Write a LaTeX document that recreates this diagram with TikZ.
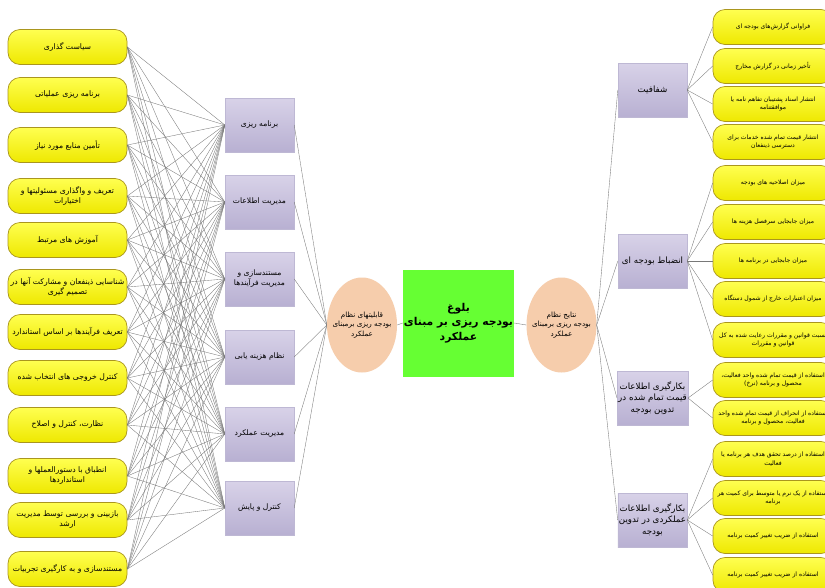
\documentclass[tikz,border=0pt]{standalone}
\usepackage{fontspec}
\usetikzlibrary{shapes.geometric}
\newfontfamily\arabicfont[Script=Arabic]{DejaVu Sans}
\TeXXeTstate=1
\newcommand\fa[1]{\beginR #1\endR}
\definecolor{lavtop}{RGB}{216,210,232}
\definecolor{lavbot}{RGB}{184,176,210}
\definecolor{lavline}{RGB}{190,184,212}
\definecolor{yeltop}{RGB}{255,255,80}
\definecolor{yelbot}{RGB}{238,232,0}
\definecolor{yelline}{RGB}{170,150,30}
\definecolor{peach}{RGB}{246,205,172}
\definecolor{limegreen}{RGB}{102,255,51}
\definecolor{linkgray}{RGB}{120,120,120}

\tikzset{
  crit/.style={draw=yelline, line width=0.7pt, rounded corners=12pt, top color=yeltop, bottom color=yelbot,
    minimum width=119, minimum height=35, align=center, inner sep=1pt,
    font=\arabicfont\fontsize{7.7}{10}\selectfont},
  indic/.style={crit, minimum width=120, font=\arabicfont\fontsize{6.1}{8.5}\selectfont},
  area/.style={draw=lavline, line width=0.4pt, top color=lavtop, bottom color=lavbot,
    minimum width=69, minimum height=54, align=center, inner sep=1pt,
    font=\arabicfont\fontsize{7.6}{10}\selectfont},
  outcome/.style={area, font=\arabicfont\fontsize{8.7}{11.5}\selectfont},
  hub/.style={ellipse, fill=peach, minimum width=70, minimum height=95, inner sep=0pt},
  hubtext/.style={align=center, font=\arabicfont\fontsize{7.2}{9.5}\selectfont},
  link/.style={draw=linkgray, line width=0.35pt}
}

\begin{document}
\begin{tikzpicture}[x=1pt, y=-1pt]
\clip (0,0) rectangle (825,587);
\fill[white] (0,0) rectangle (825,587);

% capabilities (left column)
\node[crit] (c1) at (67.5,47) {\fa{سیاست گذاری}};
\node[crit] (c2) at (67.5,95) {\fa{برنامه ریزی عملیاتی}};
\node[crit] (c3) at (67.5,145) {\fa{تأمین منابع مورد نیاز}};
\node[crit] (c4) at (67.5,196) {\fa{تعریف و واگذاری مسئولیتها و}\\\fa{اختیارات}};
\node[crit] (c5) at (67.5,240) {\fa{آموزش های مرتبط}};
\node[crit] (c6) at (67.5,287) {\fa{شناسایی ذینفعان و مشارکت آنها در}\\\fa{تصمیم گیری}};
\node[crit] (c7) at (67.5,332) {\fa{تعریف فرآیندها بر اساس استاندارد}};
\node[crit] (c8) at (67.5,378) {\fa{کنترل خروجی های انتخاب شده}};
\node[crit] (c9) at (67.5,425) {\fa{نظارت، کنترل و اصلاح}};
\node[crit] (c10) at (67.5,476) {\fa{انطباق با دستورالعملها و}\\\fa{استانداردها}};
\node[crit] (c11) at (67.5,520) {\fa{بازبینی و بررسی توسط مدیریت}\\\fa{ارشد}};
\node[crit] (c12) at (67.5,569) {\fa{مستندسازی و به کارگیری تجربیات}};

% capability areas
\node[area] (p1) at (259.5,125) {\fa{برنامه ریزی}};
\node[area] (p2) at (259.5,202) {\fa{مدیریت اطلاعات}};
\node[area] (p3) at (259.5,279) {\fa{مستندسازی و}\\\fa{مدیریت فرآیندها}};
\node[area] (p4) at (259.5,357) {\fa{نظام هزینه یابی}};
\node[area] (p5) at (259.5,434) {\fa{مدیریت عملکرد}};
\node[area] (p6) at (259.5,508) {\fa{کنترل و پایش}};

% centre
\node[hub, label={[hubtext]center:{\fa{قابلیتهای نظام}\\\fa{بودجه ریزی برمبنای}\\\fa{عملکرد}}}] (capab) at (362,325) {};
\node[fill=limegreen, minimum width=107, minimum height=107, align=center, inner sep=1pt,
  font=\arabicfont\bfseries\fontsize{10.8}{14.5}\selectfont] (matur) at (458.5,323) {\fa{بلوغ}\\\fa{بودجه ریزی بر مبنای}\\\fa{عملکرد}};
\node[hub, label={[hubtext]center:{\fa{نتایج نظام}\\\fa{بودجه ریزی برمبنای}\\\fa{عملکرد}}}] (result) at (561.5,325) {};

% outcomes
\node[outcome] (q1) at (652.5,90) {\fa{شفافیت}};
\node[outcome] (q2) at (652.5,261) {\fa{انضباط بودجه ای}};
\node[outcome] (q3) at (652.5,398) {\fa{بکارگیری اطلاعات}\\\fa{قیمت تمام شده در}\\\fa{تدوین بودجه}};
\node[outcome] (q4) at (652.5,520) {\fa{بکارگیری اطلاعات}\\\fa{عملکردی در تدوین}\\\fa{بودجه}};

% indicators (right column)
\node[indic] (r1) at (773,27) {\fa{فراوانی گزارش‌های بودجه ای}};
\node[indic] (r2) at (773,66) {\fa{تأخیر زمانی در گزارش مخارج}};
\node[indic] (r3) at (773,104) {\fa{انتشار اسناد پشتیبان تفاهم نامه یا}\\\fa{موافقتنامه}};
\node[indic] (r4) at (773,142) {\fa{انتشار قیمت تمام شده خدمات برای}\\\fa{دسترسی ذینفعان}};
\node[indic] (r5) at (773,183) {\fa{میزان اصلاحیه های بودجه}};
\node[indic] (r6) at (773,222) {\fa{میزان جابجایی سرفصل هزینه ها}};
\node[indic] (r7) at (773,261) {\fa{میزان جابجایی در برنامه ها}};
\node[indic] (r8) at (773,299) {\fa{میزان اعتبارات خارج از شمول دستگاه}};
\node[indic] (r9) at (773,340) {\fa{نسبت قوانین و مقررات رعایت شده به کل}\\\fa{قوانین و مقررات}};
\node[indic] (r10) at (773,380) {\fa{استفاده از قیمت تمام شده واحد فعالیت،}\\\fa{محصول و برنامه (نرخ)}};
\node[indic] (r11) at (773,418) {\fa{استفاده از انحراف از قیمت تمام شده واحد}\\\fa{فعالیت، محصول و برنامه}};
\node[indic] (r12) at (773,459) {\fa{استفاده از درصد تحقق هدف هر برنامه یا}\\\fa{فعالیت}};
\node[indic] (r13) at (773,498) {\fa{استفاده از یک نرم یا متوسط برای کمیت هر}\\\fa{برنامه}};
\node[indic] (r14) at (773,536) {\fa{استفاده از ضریب تغییر کمیت برنامه}};
\node[indic] (r15) at (773,575) {\fa{استفاده از ضریب تغییر کمیت برنامه}};

% links
\foreach \i in {1,...,12}
  \foreach \j in {1,...,6}
    \draw[link] (c\i.east) -- (p\j.west);
\foreach \j in {1,...,6}
  \draw[link] (p\j.east) -- (capab.west);
\foreach \j in {1,...,4}
  \draw[link] (result.east) -- (q\j.west);
\draw[link] (capab.east) -- (matur.west);
\draw[link] (matur.east) -- (result.west);
\foreach \k in {1,...,4}
  \draw[link] (q1.east) -- (r\k.west);
\foreach \k in {5,...,9}
  \draw[link] (q2.east) -- (r\k.west);
\foreach \k in {10,11}
  \draw[link] (q3.east) -- (r\k.west);
\foreach \k in {12,...,15}
  \draw[link] (q4.east) -- (r\k.west);

\end{tikzpicture}
\end{document}
